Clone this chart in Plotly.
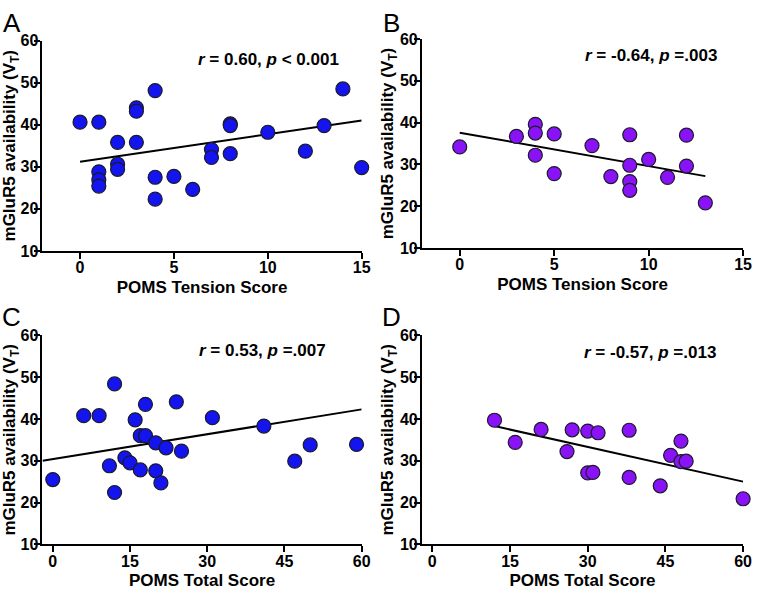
import numpy as np
import plotly.graph_objects as go

# ---------------- data ----------------
a_x = [0, 1, 1, 1, 1, 2, 2, 2, 3, 3, 3, 4, 4, 4, 5, 6, 7, 7, 8, 8, 8, 10, 12, 13, 14, 15]
a_y = [40.6, 40.6, 28.8, 26.9, 25.4, 35.8, 30.6, 29.4, 44.0, 43.2, 35.8, 48.1, 27.5, 22.3,
       27.7, 24.6, 34.1, 32.2, 40.2, 39.8, 33.1, 38.2, 33.7, 39.8, 48.5, 29.8]

b_x = [0, 3, 4, 4, 4, 5, 5, 7, 8, 9, 9, 9, 9, 10, 11, 12, 12, 13]
b_y = [34.2, 36.7, 39.6, 37.5, 32.2, 37.3, 27.8, 34.5, 27.1, 37.1, 29.8, 25.9, 23.8,
       31.2, 26.9, 37.0, 29.6, 20.8]

c_x = [0, 6, 9, 12, 11, 12, 14, 15, 16, 17, 18, 18, 17, 20, 20, 21, 22, 24, 25, 31, 41, 47, 50, 59]
c_y = [25.5, 40.8, 40.8, 48.4, 28.8, 22.4, 30.7, 29.5, 39.8, 36.0, 36.0, 43.5, 27.8, 34.3,
       27.6, 24.7, 33.1, 44.1, 32.3, 40.3, 38.3, 29.9, 33.8, 33.9]

d_x = [12, 16, 21, 26, 27, 30, 32, 30, 31, 38, 38, 44, 46, 48, 48, 49, 60]
d_y = [39.7, 34.4, 37.5, 32.2, 37.4, 37.1, 36.7, 27.1, 27.2, 37.3, 26.0, 24.0, 31.3, 34.7,
       29.8, 29.9, 20.9]

# regression-line end points
a_fit_x = [0, 15];  a_fit_y = [31.2, 41.0]
b_fit_x = [0, 13];  b_fit_y = [37.6, 27.2]
c_fit_x = [-2, 60]; c_fit_y = [30.0, 42.3]
d_fit_x = [12, 60]; d_fit_y = [38.3, 25.0]

stats = ["<b><i>r</i> = 0.60, <i>p</i> &lt; 0.001</b>",
         "<b><i>r</i> = -0.64, <i>p</i> =.003</b>",
         "<b><i>r</i> = 0.53, <i>p</i> =.007</b>",
         "<b><i>r</i> = -0.57, <i>p</i> =.013</b>"]
letters = ["A", "B", "C", "D"]
x_titles = ["POMS Tension Score", "POMS Tension Score", "POMS Total Score", "POMS Total Score"]
x_ticks = [[0, 5, 10, 15], [0, 5, 10, 15], [0, 15, 30, 45, 60], [0, 15, 30, 45, 60]]
x_ranges = [[-2, 15], [-2, 15], [-2, 60], [-2, 60]]
y_ticks = [10, 20, 30, 40, 50, 60]

BLUE = "#1414EE"
PURPLE = "#8A12F6"
colors = [BLUE, PURPLE, BLUE, PURPLE]

W, H = 762, 598
def px(x):
    return x / W
def py(y):
    return 1 - y / H

# pixel boxes of plot areas (left, right, top, bottom)
boxes = [(43, 366, 33.5, 250), (427, 752, 32, 247), (43, 366, 337, 552), (427, 752, 337, 552)]
stat_pos = [(272, 53), (659, 49), (266, 353), (658, 355)]
letter_pos = [(12, 15), (396, 15), (12, 318), (396, 318)]

FONT = "Liberation Sans, Arial, sans-serif"

fig = go.Figure()
series = [(a_x, a_y, a_fit_x, a_fit_y), (b_x, b_y, b_fit_x, b_fit_y),
          (c_x, c_y, c_fit_x, c_fit_y), (d_x, d_y, d_fit_x, d_fit_y)]

layout = dict(width=W, height=H, margin=dict(l=0, r=0, t=0, b=0),
              paper_bgcolor="white", plot_bgcolor="white", showlegend=False,
              font=dict(family=FONT, color="black"))
annotations = []
for i, (xs, ys, fx, fy) in enumerate(series):
    n = "" if i == 0 else str(i + 1)
    xa, ya = "x" + n, "y" + n
    fig.add_trace(go.Scatter(x=fx, y=fy, mode="lines", xaxis=xa, yaxis=ya,
                             line=dict(color="black", width=2), hoverinfo="skip",
                             cliponaxis=False))
    fig.add_trace(go.Scatter(x=xs, y=ys, mode="markers", xaxis=xa, yaxis=ya,
                             cliponaxis=False,
                             marker=dict(size=14, color=colors[i],
                                         line=dict(color="#1a1a2a", width=1.2))))
    l, r, t, b = boxes[i]
    layout["xaxis" + n] = dict(domain=[px(l), px(r)], anchor=ya, range=x_ranges[i],
                               tickvals=x_ticks[i],
                               showline=True, linecolor="black", linewidth=2,
                               ticks="outside", ticklen=6, tickwidth=2, tickcolor="black",
                               ticklabelstandoff=-5,
                               showgrid=False, zeroline=False,
                               tickfont=dict(size=16, family=FONT, color="black", weight="bold"),
                               title=dict(text=x_titles[i],
                                          font=dict(size=17, family=FONT, color="black",
                                                    weight="bold"),
                                          standoff=6))
    layout["yaxis" + n] = dict(domain=[py(b), py(t)], anchor=xa, range=[10, 60],
                               tickvals=y_ticks,
                               showline=True, linecolor="black", linewidth=2,
                               ticks="outside", ticklen=6, tickwidth=2, tickcolor="black",
                               ticklabelstandoff=-7,
                               showgrid=False, zeroline=False,
                               tickfont=dict(size=16, family=FONT, color="black", weight="bold"),
                               title=dict(text="mGluR5 availability (V<sub>T</sub>)",
                                          font=dict(size=17, family=FONT, color="black",
                                                    weight="bold"),
                                          standoff=2))
    sx, sy = stat_pos[i]
    annotations.append(dict(x=px(sx), y=py(sy), xref="paper", yref="paper", text=stats[i],
                            showarrow=False, xanchor="center", yanchor="middle",
                            font=dict(size=17, family=FONT, color="black")))
    lx, ly = letter_pos[i]
    annotations.append(dict(x=px(lx), y=py(ly), xref="paper", yref="paper", text=letters[i],
                            showarrow=False, xanchor="center", yanchor="middle",
                            font=dict(size=26, family=FONT, color="black")))

layout["annotations"] = annotations
fig.update_layout(**layout)
fig.write_html("out.html", config={"displayModeBar": False},
               post_script="document.body.style.margin='0';")
